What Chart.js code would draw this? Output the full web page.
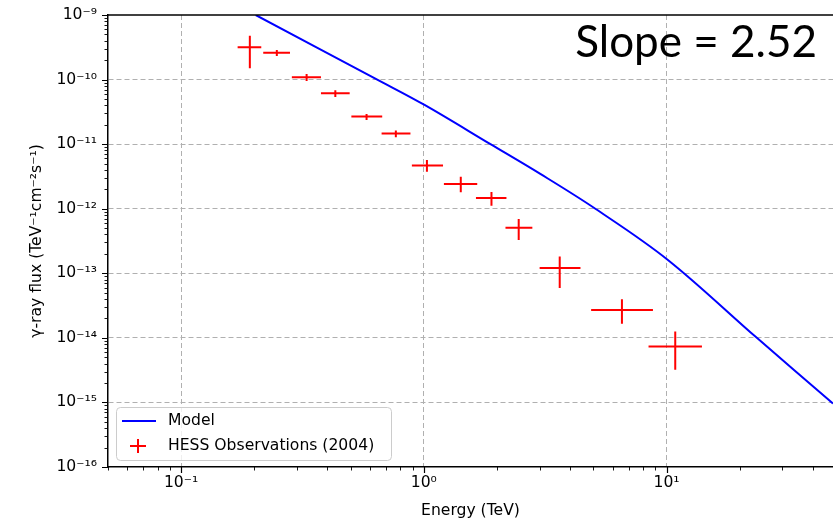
<!DOCTYPE html>
<html><head><meta charset="utf-8">
<script src="https://cdn.jsdelivr.net/npm/chart.js@4.4.1/dist/chart.umd.min.js"></script>
<style>html,body{margin:0;padding:0;background:#fff;overflow:hidden}</style>
</head><body>
<canvas id="c" width="833" height="522"></canvas>
<script>
// ---- tick labels ----
const xTickValues = [0.1, 1, 10];
const xTickLabels = ['10⁻¹', '10⁰', '10¹'];
const yTickValues = [1e-16, 1e-15, 1e-14, 1e-13, 1e-12, 1e-11, 1e-10, 1e-9];
const yTickLabels = ['10⁻¹⁶', '10⁻¹⁵', '10⁻¹⁴', '10⁻¹³', '10⁻¹²', '10⁻¹¹', '10⁻¹⁰', '10⁻⁹'];

// ---- model curve (Energy in TeV, flux) ----
const modelE = [0.203, 0.643, 1.007, 1.882, 3.02, 5.09, 10.13, 23.55, 47.95, 48.5];
const modelF = [1e-9, 1e-10, 4.05e-11, 1e-11, 3.46e-12, 1e-12, 1.61e-13, 1e-14, 1e-15, 9.6e-16];

// ---- HESS observations (2004) ----
const hessE    = [0.192, 0.248, 0.329, 0.432, 0.581, 0.767, 1.03, 1.42, 1.90, 2.46, 3.63, 6.55, 10.86];
const hessElo  = [0.171, 0.218, 0.286, 0.377, 0.503, 0.670, 0.893, 1.21, 1.64, 2.17, 3.00, 4.89, 8.43];
const hessEhi  = [0.214, 0.281, 0.377, 0.495, 0.674, 0.881, 1.20, 1.66, 2.19, 2.80, 4.42, 8.79, 13.99];
const hessF    = [3.16e-10, 2.61e-10, 1.09e-10, 6.14e-11, 2.67e-11, 1.46e-11, 4.65e-12, 2.42e-12, 1.46e-12, 5.05e-13, 1.21e-13, 2.71e-14, 7.33e-15];
const hessFlo  = [1.50e-10, 2.32e-10, 9.5e-11, 5.38e-11, 2.37e-11, 1.28e-11, 3.75e-12, 1.80e-12, 1.11e-12, 3.29e-13, 5.94e-14, 1.65e-14, 3.20e-15];
const hessFhi  = [4.79e-10, 2.87e-10, 1.22e-10, 6.83e-11, 2.93e-11, 1.62e-11, 5.69e-12, 3.14e-12, 1.82e-12, 6.95e-13, 1.82e-13, 3.97e-14, 1.25e-14];

const annotation = 'Slope = 2.52';
const FONT = '"DejaVu Sans", sans-serif';
const FS = 15.6;

function minorValues(min, max) {
  const out = [];
  const e0 = Math.floor(Math.log10(min)), e1 = Math.ceil(Math.log10(max));
  for (let e = e0; e <= e1; e++) for (let m = 2; m <= 9; m++) {
    const v = m * Math.pow(10, e);
    if (v >= min * 0.999 && v <= max * 1.001) out.push(v);
  }
  return out;
}
function noPad(s) { s.paddingTop = 0; s.paddingBottom = 0; s.paddingLeft = 0; s.paddingRight = 0; }

const decor = {
  id: 'decor',
  afterDatasetsDraw(chart) {
    const {ctx, chartArea: a, scales: {x, y}} = chart;
    ctx.save();
    ctx.beginPath(); ctx.rect(a.left, a.top, a.right - a.left, a.bottom - a.top); ctx.clip();
    ctx.strokeStyle = '#ff0000'; ctx.lineWidth = 2;
    for (let i = 0; i < hessE.length; i++) {
      const px = x.getPixelForValue(hessE[i]), py = y.getPixelForValue(hessF[i]);
      ctx.beginPath();
      ctx.moveTo(x.getPixelForValue(hessElo[i]), py); ctx.lineTo(x.getPixelForValue(hessEhi[i]), py);
      ctx.moveTo(px, y.getPixelForValue(hessFlo[i])); ctx.lineTo(px, y.getPixelForValue(hessFhi[i]));
      ctx.stroke();
    }
    ctx.restore();
  },
  afterDraw(chart) {
    const {ctx, chartArea: a, scales: {x, y}} = chart;
    ctx.save();
    // top spine
    ctx.strokeStyle = '#000'; ctx.lineWidth = 1.5;
    ctx.beginPath(); ctx.moveTo(a.left - 0.75, a.top); ctx.lineTo(a.right, a.top); ctx.stroke();
    // ticks
    ctx.lineWidth = 1.2;
    ctx.beginPath();
    xTickValues.forEach(v => { const p = Math.round(x.getPixelForValue(v)) + 0.5; ctx.moveTo(p, a.bottom); ctx.lineTo(p, a.bottom + 6); });
    yTickValues.forEach(v => { const p = Math.round(y.getPixelForValue(v)) + 0.5; ctx.moveTo(a.left, p); ctx.lineTo(a.left - 6, p); });
    ctx.stroke();
    ctx.lineWidth = 0.9;
    ctx.beginPath();
    minorValues(x.min, x.max).forEach(v => { const p = Math.round(x.getPixelForValue(v)) + 0.5; ctx.moveTo(p, a.bottom); ctx.lineTo(p, a.bottom + 3.5); });
    minorValues(y.min, y.max).forEach(v => { const p = Math.round(y.getPixelForValue(v)) + 0.5; ctx.moveTo(a.left, p); ctx.lineTo(a.left - 3.5, p); });
    ctx.stroke();

    // legend
    const lx = a.left + 8, ly = a.bottom - 60, lw = 275, lh = 53;
    ctx.fillStyle = 'rgba(255,255,255,0.8)';
    ctx.strokeStyle = '#cccccc'; ctx.lineWidth = 1;
    ctx.beginPath(); ctx.roundRect(lx + 0.5, ly + 0.5, lw, lh, 4); ctx.fill(); ctx.stroke();
    const ds = chart.data.datasets;
    ctx.font = FS + 'px ' + FONT; ctx.fillStyle = '#000'; ctx.textBaseline = 'middle'; ctx.textAlign = 'left';
    ctx.strokeStyle = ds[0].borderColor; ctx.lineWidth = 2;
    ctx.beginPath(); ctx.moveTo(lx + 6, ly + 14); ctx.lineTo(lx + 40, ly + 14); ctx.stroke();
    ctx.fillText(ds[0].label, lx + 52, ly + 14);
    ctx.strokeStyle = ds[1].borderColor; ctx.lineWidth = 2;
    ctx.beginPath(); ctx.moveTo(lx + 14, ly + 39); ctx.lineTo(lx + 30, ly + 39); ctx.moveTo(lx + 22, ly + 32); ctx.lineTo(lx + 22, ly + 46); ctx.stroke();
    ctx.fillText(ds[1].label, lx + 52, ly + 39);

    // annotation
    ctx.font = '44px Lato, "Open Sans", sans-serif';
    ctx.textAlign = 'right'; ctx.textBaseline = 'alphabetic'; ctx.fillStyle = '#000';
    ctx.fillText(annotation, 817, 57);
    ctx.restore();
  }
};

new Chart(document.getElementById('c'), {
  type: 'scatter',
  data: {
    datasets: [
      { label: 'Model', type: 'line', data: modelE.map((e, i) => ({x: e, y: modelF[i]})),
        borderColor: '#0000ff', backgroundColor: '#0000ff', borderWidth: 2, pointRadius: 0,
        showLine: true, fill: false, tension: 0.35, order: 2 },
      { label: 'HESS Observations (2004)', data: hessE.map((e, i) => ({x: e, y: hessF[i]})),
        borderColor: '#ff0000', backgroundColor: '#ff0000', pointRadius: 0, order: 1 }
    ]
  },
  options: {
    responsive: false, animation: false, devicePixelRatio: 1,
    layout: {padding: {top: 15, left: 0, right: 0, bottom: 0}},
    plugins: {legend: {display: false}, tooltip: {enabled: false}},
    scales: {
      x: {
        type: 'logarithmic', position: 'bottom', min: 0.05, max: 48.5,
        afterBuildTicks: s => { s.ticks = xTickValues.map(v => ({value: v})); },
        afterFit: s => { s.height = 55; noPad(s); },
        ticks: {callback: (v, i) => xTickLabels[i], font: {family: FONT, size: FS}, color: '#000', padding: 7, autoSkip: false, maxRotation: 0},
        grid: {color: '#b0b0b0', lineWidth: 1, drawTicks: false},
        border: {display: true, color: '#000', width: 1.5, dash: [5, 3]},
        title: {display: true, text: 'Energy (TeV)', font: {family: FONT, size: FS}, color: '#000', padding: {top: 0, bottom: 2}}
      },
      y: {
        type: 'logarithmic', position: 'left', min: 1e-16, max: 1e-9,
        afterBuildTicks: s => { s.ticks = yTickValues.map(v => ({value: v})); },
        afterFit: s => { s.width = 108; noPad(s); },
        ticks: {callback: (v, i) => yTickLabels[i], font: {family: FONT, size: FS}, color: '#000', padding: 11, autoSkip: false},
        grid: {color: c => (c.index === 0 || c.index === yTickValues.length - 1) ? 'rgba(0,0,0,0)' : '#b0b0b0', lineWidth: 1, drawTicks: false},
        border: {display: true, color: '#000', width: 1.5, dash: [5, 3]},
        title: {display: true, text: 'γ-ray flux (TeV⁻¹cm⁻²s⁻¹)', font: {family: FONT, size: FS}, color: '#000', padding: {top: 28, bottom: 0}}
      }
    }
  },
  plugins: [decor]
});
</script>
</body></html>
